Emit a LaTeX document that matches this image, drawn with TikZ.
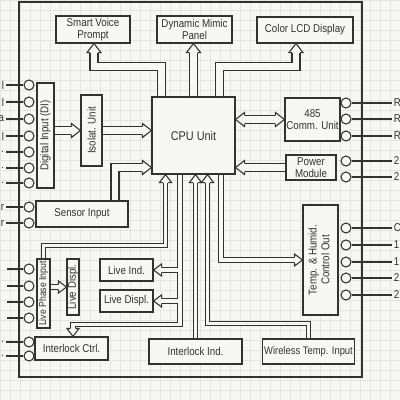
\documentclass[tikz,border=0pt]{standalone}
\usepackage{fontspec}
\setmainfont{Liberation Sans}[FakeStretch=0.86]
\usepackage{graphicx}
\usetikzlibrary{calc}

\definecolor{paper}{RGB}{247,247,244}
\definecolor{ink}{RGB}{50,50,50}
\definecolor{gridc}{RGB}{228,228,226}

\tikzset{every picture/.style={line width=0.8pt}}
\tikzset{
  blk/.style={draw=ink, fill=paper, text=ink, inner sep=1pt, align=center, font=\fontsize{8.5}{9.5}\selectfont},
  vblk/.style={blk, inner sep=0.5pt},
  port/.style={draw=ink, fill=paper, circle, minimum size=7.5pt, inner sep=0pt},
  tag/.style={inner sep=1pt, text=ink, font=\fontsize{8.5}{9.5}\selectfont},
  bus/.style={draw=ink, double=paper, double distance=5.2pt},
  sbus/.style={draw=ink, double=paper, double distance=2.6pt},
  atend/.style={pos=1, sloped, allow upside down},
  atstart/.style={pos=0, sloped, allow upside down},
  bighead/.pic={
    \fill[paper] (-6.75pt,-3.5pt) rectangle (-0.5pt,3.5pt);
    \filldraw[fill=paper, draw=ink] (-6.75pt,3pt) -- (-6.75pt,5.25pt) -- (0,0) -- (-6.75pt,-5.25pt) -- (-6.75pt,-3pt);
  },
  bigtail/.pic={
    \fill[paper] (6.75pt,-3.5pt) rectangle (0.5pt,3.5pt);
    \filldraw[fill=paper, draw=ink] (6.75pt,3pt) -- (6.75pt,5.25pt) -- (0,0) -- (6.75pt,-5.25pt) -- (6.75pt,-3pt);
  },
  smallhead/.pic={
    \fill[paper] (-6pt,-2.2pt) rectangle (-0.5pt,2.2pt);
    \filldraw[fill=paper, draw=ink] (-6pt,1.7pt) -- (-6pt,4.5pt) -- (0,0) -- (-6pt,-4.5pt) -- (-6pt,-1.7pt);
  }
}

\begin{document}
\begin{tikzpicture}[x=0.75pt,y=-0.75pt]
\useasboundingbox (0,0) rectangle (400,400);
\fill[paper] (0,0) rectangle (400,400);
\foreach \g in {0,10,...,400}{
  \draw[gridc, line width=0.3pt] (\g,0) -- (\g,400);
  \draw[gridc, line width=0.3pt] (0,\g) -- (400,\g);
}

% frame
\draw[ink] (19,2) rectangle (362,377);

% top row
\node[blk, minimum width=55.5pt, minimum height=20.25pt] (svp) at (93,29.5) {Smart Voice\\Prompt};
\node[blk, minimum width=56.25pt, minimum height=20.25pt] (dmp) at (194.5,29.5) {Dynamic Mimic\\Panel};
\node[blk, minimum width=72pt, minimum height=19.5pt] (lcd) at (305,30) {Color LCD Display};

% middle
\node[vblk, minimum width=12.75pt, minimum height=78.75pt] (di) at (45.5,135.5) {\rotatebox{90}{Digital Input (DI)}};
\node[vblk, minimum width=15.75pt, minimum height=53.25pt] (iso) at (91.5,130.5) {\rotatebox{90}{Isolat. Unit}};
\node[blk, minimum width=62.25pt, minimum height=57.75pt, font=\fontsize{9.5}{11}\selectfont] (cpu) at (193.5,135.5) {CPU Unit};
\node[blk, minimum width=41.25pt, minimum height=32.25pt] (comm) at (312.5,119.5) {485\\Comm. Unit};
\node[blk, inner sep=0.5pt, minimum width=37.5pt, minimum height=18.75pt] (pwr) at (311,167.5) {Power\\Module};
\node[blk, minimum width=69pt, minimum height=19.5pt] (sens) at (82,214) {Sensor Input};

% lower part
\node[vblk, minimum width=9.75pt, minimum height=51.75pt, font=\fontsize{7.6}{9}\selectfont] (lpi) at (43.5,293.5) {\rotatebox{90}{Live Phase Input}};
\node[vblk, minimum width=9pt, minimum height=42pt] (lvd) at (73,287) {\rotatebox{90}{Live Displ.}};
\node[blk, minimum width=39.75pt, minimum height=16.5pt] (lind) at (126.5,270) {Live Ind.};
\node[blk, minimum width=39.75pt, minimum height=16.5pt] (ldisp) at (126.5,301) {Live Displ.};
\node[vblk, minimum width=26.25pt, minimum height=82.5pt] (thc) at (320.5,260) {\rotatebox{90}{\begin{tabular}{@{}c@{}}Temp. \& Humid.\\Control Out\end{tabular}}};
\node[blk, minimum width=54.75pt, minimum height=17.25pt] (ilc) at (71.5,348.5) {Interlock Ctrl.};
\node[blk, minimum width=69.75pt, minimum height=18.75pt] (ili) at (195.5,351.5) {Interlock Ind.};
\node[blk, minimum width=68.25pt, minimum height=18.75pt, font=\fontsize{8.2}{9.5}\selectfont] (wti) at (308.5,351.5) {Wireless Temp. Input};

% buses
\draw[bus] ($(cpu.north)+(-32,0)$) |- ($(svp.south)+(1,23)$) -- ($(svp.south)+(1,0)$) pic[atend]{bighead};
\draw[bus] (cpu.north) -- (cpu.north |- dmp.south) pic[atend]{bighead};
\draw[bus] ($(cpu.north)+(26,0)$) |- ($(lcd.south)+(-9,23)$) -- ($(lcd.south)+(-9,0)$) pic[atend]{bighead};
\draw[bus] (di.east |- iso.west) -- (iso.west) pic[atend]{bighead};
\draw[bus] (iso.east) -- (cpu.west |- iso.east) pic[atend]{bighead};
\draw[bus] ($(sens.north)+(33,0)$) |- ($(cpu.west)+(0,32)$) pic[atend]{bighead};
\draw[bus] (cpu.east |- comm.west) -- (comm.west) pic[atend]{bighead} pic[atstart]{bigtail};
\draw[bus] (pwr.west) -- (cpu.east |- pwr.west) pic[atend]{bighead};

\draw[sbus] (lpi.east |- lvd.west) -- (lvd.west) pic[atend]{smallhead};
\draw[sbus] (lpi.north) |- ($(cpu.south)+(-28,71)$) -- ($(cpu.south)+(-28,0)$) pic[atend]{smallhead};
\draw[sbus] ($(cpu.south)+(-13.5,0)$) |- (lind.east) pic[atend]{smallhead}
  ($(cpu.south)+(-13.5,0)$) |- (ldisp.east) pic[atend]{smallhead}
  ($(cpu.south)+(-13.5,0)$) |- ($(ilc.north)+(1.5,-12)$) -- ($(ilc.north)+(1.5,0)$) pic[atend]{smallhead};
\draw[sbus] (ili.north) -- (ili.north |- cpu.south) pic[atend]{smallhead};
\draw[sbus] (wti.north) |- ($(cpu.south)+(14,149)$) -- ($(cpu.south)+(14,0)$) pic[atend]{smallhead};
\draw[sbus] ($(cpu.south)+(27.5,0)$) |- (thc.west) pic[atend]{smallhead};

% terminals, left
\foreach \n/\y/\t in {1/85/l,2/102/l,3/119/a,4/136/l,5/152/.,6/168/.,7/183/.}{
  \node[port] (pd\n) at (29,\y) {};
  \node[tag, anchor=east] (td\n) at (6,\y) {\t};
  \draw[ink] (pd\n) -- (td\n);
}
\foreach \n/\y in {1/207,2/223}{
  \node[port] (ps\n) at (29,\y) {};
  \node[tag, anchor=east] (ts\n) at (6,\y) {r};
  \draw[ink] (ps\n) -- (ts\n);
}
\foreach \n/\y in {1/269,2/286,3/302,4/318}{
  \node[port] (pl\n) at (29,\y) {};
  \coordinate (tl\n) at (7,\y);
  \draw[ink] (pl\n) -- (tl\n);
}
\foreach \n/\y in {1/342,2/356}{
  \node[port] (pi\n) at (29,\y) {};
  \node[tag, anchor=east] (ti\n) at (6,\y) {.};
  \draw[ink] (pi\n) -- (ti\n);
}

% terminals, right
\foreach \n/\y/\t in {1/103/R,2/119/R,3/136/R,4/161/2,5/177/2,6/228/C,7/245/1,8/262/1,9/278/2,10/295/2}{
  \node[port] (pr\n) at (346,\y) {};
  \node[tag, anchor=west] (tr\n) at (392,\y) {\t};
  \draw[ink] (pr\n) -- (tr\n);
}

\end{tikzpicture}
\end{document}
